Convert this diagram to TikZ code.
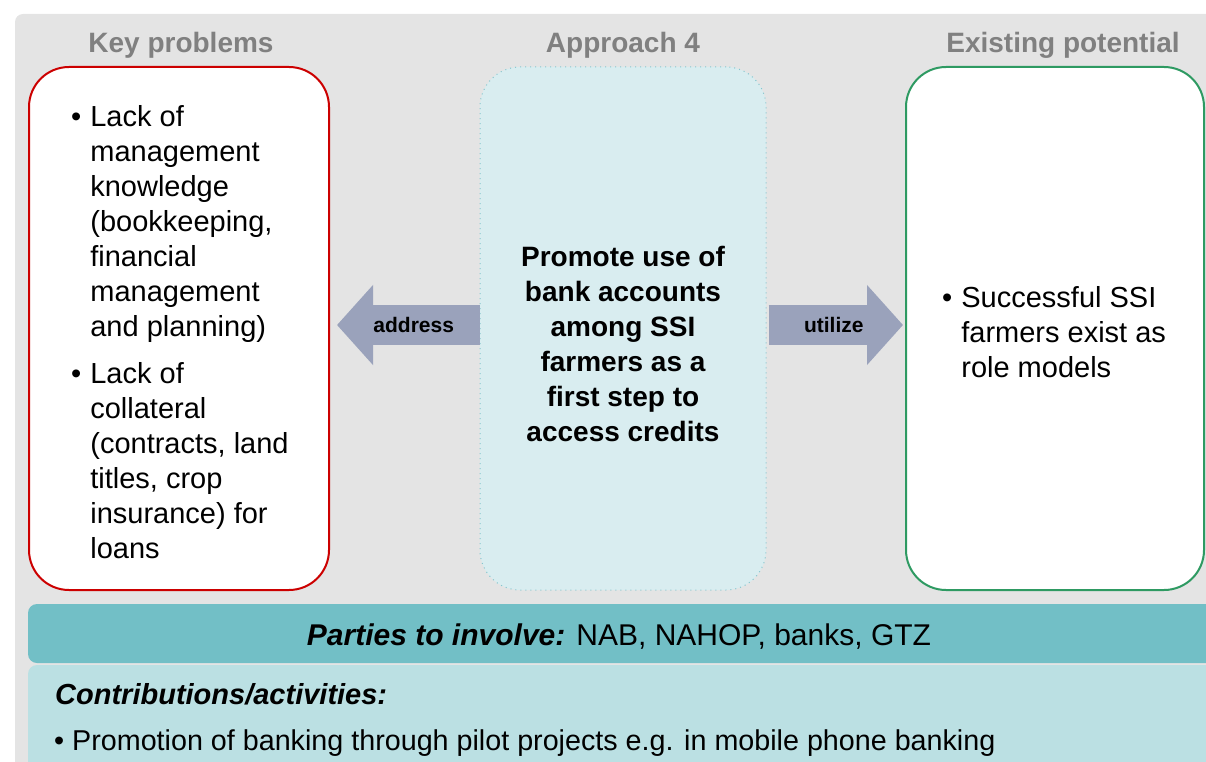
\documentclass[tikz,border=0pt]{standalone}
\usepackage{fontspec}
\setmainfont{Liberation Sans}
\usetikzlibrary{arrows.meta,positioning}

\definecolor{panelgray}{HTML}{E4E4E4}
\definecolor{headgray}{HTML}{808080}
\definecolor{keyred}{HTML}{CC0000}
\definecolor{potgreen}{HTML}{2E9A62}
\definecolor{appfill}{HTML}{D9EDF0}
\definecolor{appdots}{HTML}{86C6CE}
\definecolor{arrowblue}{HTML}{9AA2BB}
\definecolor{partyfill}{HTML}{72BFC6}
\definecolor{contribfill}{HTML}{BBE0E3}

\begin{document}
\begin{tikzpicture}[x=1pt,y=-1pt,
    heading/.style={font=\fontsize{28}{30}\selectfont\bfseries, text=headgray, anchor=base},
    column/.style={rounded corners=40pt, minimum height=523pt, line width=2pt, inner sep=0pt},
    bodytext/.style={font=\fontsize{29}{35}\selectfont, inner sep=0pt},
    arrowlabel/.style={font=\fontsize{21}{22}\selectfont\bfseries, text=black},
    bigarrow/.style={arrowblue, line width=40pt, -{Triangle[length=36pt,width=78pt]}}
  ]
  \useasboundingbox (0,0) rectangle (1206,762);

  % Background panel
  \fill[panelgray, rounded corners=8pt] (15,14) rectangle (1216,772);

  % Column headings
  \foreach \x/\t in {181/Key problems, 623/Approach 4, 1063/Existing potential}
    \node[heading] at (\x,52.5) {\t};

  % Three columns
  \node[column, draw=keyred, fill=white, minimum width=300pt] (keybox) at (179,328.5) {};
  \node[column, draw=appdots, fill=appfill, line width=1pt, dash pattern=on 1pt off 4pt,
        minimum width=286pt] (approach) at (623,328.5) {};
  \node[column, draw=potgreen, fill=white, minimum width=298pt] (potential) at (1055,328.5) {};

  % Column texts
  \node[bodytext, anchor=north west] (keylist) at (71,101.5) {%
    \begin{tabular}{@{}l@{\hspace{9pt}}l@{}}
      \textbullet & Lack of\\
                  & management\\
                  & knowledge\\
                  & (bookkeeping,\\
                  & financial\\
                  & management\\
                  & and planning)\\[12pt]
      \textbullet & Lack of\\
                  & collateral\\
                  & (contracts, land\\
                  & titles, crop\\
                  & insurance) for\\
                  & loans
    \end{tabular}};
  \node[bodytext, anchor=north west] (potlist) at (942,282.5) {%
    \begin{tabular}{@{}l@{\hspace{9pt}}l@{}}
      \textbullet & Successful SSI\\
                  & farmers exist as\\
                  & role models
    \end{tabular}};
  \node[bodytext, font=\fontsize{28}{35}\selectfont\bfseries, anchor=north] (approachtext) at (623,241.5) {%
    \begin{tabular}{@{}c@{}}
      Promote use of\\
      bank accounts\\
      among SSI\\
      farmers as a\\
      first step to\\
      access credits
    \end{tabular}};

  % Arrows between the columns
  \draw[bigarrow, shorten >=7pt] ([yshift=3.5pt]approach.west) -- ([yshift=3.5pt]keybox.east)
    node[midway, arrowlabel, xshift=9pt] (addr) {address};
  \draw[bigarrow, shorten <=2pt, shorten >=2pt] ([yshift=3.5pt]approach.east) -- ([yshift=3.5pt]potential.west)
    node[midway, arrowlabel, xshift=-2pt] (util) {utilize};

  % Parties and contributions
  \fill[partyfill, rounded corners=9pt] (28,604) rectangle (1216,663);
  \fill[contribfill, rounded corners=9pt] (28,665) rectangle (1216,775);
  \node[bodytext, font=\fontsize{30}{35}\selectfont, anchor=base] (parties) at (619,645)
    {\textbf{\textit{Parties to involve:}} NAB, NAHOP, banks, GTZ};
  \node[bodytext, anchor=base west] (contrib) at (55,704)
    {\textbf{\textit{Contributions/activities:}}};
  \node[bodytext, font=\fontsize{28.7}{35}\selectfont, anchor=base west] (activity) at (54,750)
    {\textbullet\ Promotion of banking through pilot projects e.g. in mobile phone banking};
\end{tikzpicture}
\end{document}
